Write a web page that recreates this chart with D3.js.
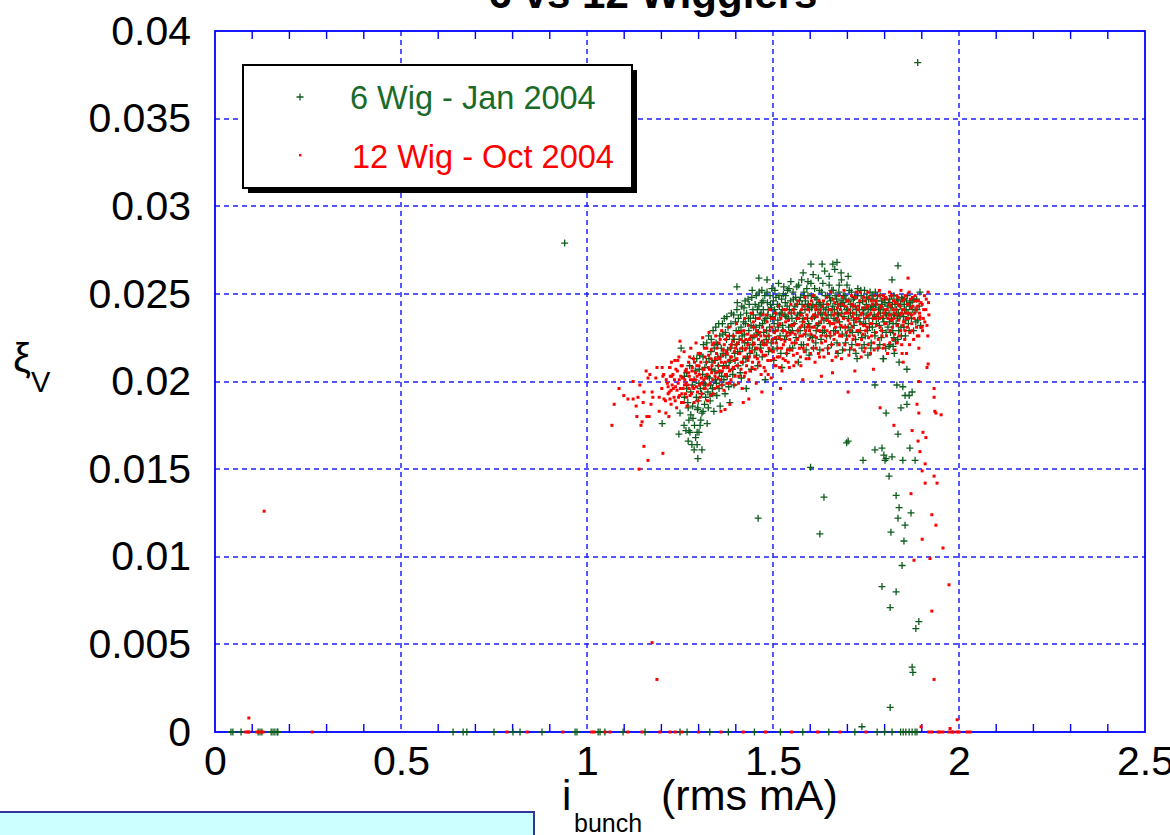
<!DOCTYPE html>
<html>
<head>
<meta charset="utf-8">
<script src="https://cdn.jsdelivr.net/npm/d3@7"></script>
<style>
  html, body { margin: 0; padding: 0; background: #ffffff; }
  svg { display: block; }
  text { font-family: "Liberation Sans", Arial, sans-serif; }
</style>
</head>
<body>
<svg id="chart" width="1170" height="835"></svg>
<script>
// ---- axis definitions ----
const xTicks = [0, 0.5, 1, 1.5, 2, 2.5];
const xTickLabels = ["0", "0.5", "1", "1.5", "2", "2.5"];
const yTicks = [0, 0.005, 0.01, 0.015, 0.02, 0.025, 0.03, 0.035, 0.04];
const yTickLabels = ["0", "0.005", "0.01", "0.015", "0.02", "0.025", "0.03", "0.035", "0.04"];
const seriesNames = ["6 Wig - Jan 2004", "12 Wig - Oct 2004"];

// ---- 6 wigglers, Jan 2004: (bunch current [rms mA], xi_V) ----
const wig6Main = [
  [1.253,0.0219],[1.262,0.0203],[1.268,0.0196],[1.271,0.0188],[1.276,0.0209],[1.279,0.0181],[1.283,0.0198],[1.287,0.0213],[1.289,0.0175],[1.266,0.0172],
  [1.291,0.0206],[1.294,0.0191],[1.297,0.0184],[1.301,0.0199],[1.303,0.0215],[1.306,0.0178],[1.308,0.0193],[1.311,0.0204],[1.313,0.0221],[1.316,0.0187],[1.318,0.0198],[1.321,0.0211],[1.323,0.0176],[1.325,0.0194],[1.327,0.0226],[1.329,0.0202],
  [1.331,0.0189],[1.333,0.0217],[1.335,0.0207],[1.337,0.0196],[1.339,0.0229],[1.341,0.0183],[1.343,0.0212],[1.345,0.0201],[1.347,0.0222],[1.349,0.0192],[1.352,0.0214],[1.354,0.0233],[1.356,0.0205],[1.358,0.0186],[1.361,0.0219],[1.363,0.0198],[1.365,0.0227],[1.367,0.0209],[1.369,0.0236],
  [1.371,0.0193],[1.373,0.0215],[1.375,0.0224],[1.377,0.0203],[1.379,0.0231],[1.382,0.0211],[1.384,0.0188],[1.386,0.0219],[1.388,0.0239],[1.391,0.0207],[1.393,0.0226],[1.395,0.0198],[1.397,0.0216],[1.399,0.0234],[1.402,0.0221],[1.404,0.0245],[1.406,0.0209],[1.408,0.0229],
  [1.411,0.0217],[1.413,0.0238],[1.415,0.0202],[1.417,0.0226],[1.419,0.0211],[1.422,0.0242],[1.424,0.0222],[1.426,0.0233],[1.428,0.0196],[1.431,0.0214],[1.433,0.0247],[1.435,0.0229],[1.437,0.0219],[1.439,0.0236],[1.442,0.0207],[1.444,0.0225],[1.446,0.0241],[1.448,0.0231],
  [1.451,0.0218],[1.453,0.0236],[1.455,0.0249],[1.457,0.0227],[1.459,0.0209],[1.462,0.0243],[1.464,0.0232],[1.466,0.0221],[1.468,0.0239],[1.471,0.0214],[1.473,0.0246],[1.475,0.0228],[1.477,0.0235],[1.479,0.0201],[1.482,0.0224],[1.484,0.0251],[1.486,0.0238],[1.488,0.0217],
  [1.491,0.0231],[1.493,0.0244],[1.495,0.0222],[1.497,0.0253],[1.499,0.0237],[1.502,0.0212],[1.504,0.0241],[1.506,0.0229],[1.508,0.0248],[1.511,0.0219],[1.513,0.0235],[1.515,0.0256],[1.517,0.0243],[1.519,0.0226],[1.522,0.0239],[1.524,0.0208],[1.526,0.0232],[1.528,0.0250],
  [1.531,0.0224],[1.533,0.0245],[1.535,0.0237],[1.537,0.0216],[1.539,0.0252],[1.542,0.0231],[1.544,0.0241],[1.546,0.0228],[1.548,0.0257],[1.551,0.0236],[1.553,0.0219],[1.555,0.0247],[1.557,0.0233],[1.559,0.0243],[1.562,0.0225],[1.564,0.0254],[1.566,0.0238],[1.568,0.0211],
  [1.571,0.0246],[1.573,0.0229],[1.575,0.0239],[1.577,0.0258],[1.579,0.0234],[1.582,0.0221],[1.584,0.0249],[1.586,0.0241],[1.588,0.0227],[1.591,0.0253],[1.593,0.0236],[1.595,0.0244],[1.597,0.0215],[1.599,0.0231],[1.602,0.0256],[1.604,0.0242],[1.606,0.0225],[1.608,0.0261],
  [1.611,0.0237],[1.613,0.0248],[1.615,0.0222],[1.617,0.0243],[1.619,0.0232],[1.622,0.0259],[1.624,0.0245],[1.626,0.0218],[1.628,0.0239],[1.631,0.0251],[1.633,0.0228],[1.635,0.0244],[1.637,0.0235],[1.639,0.0263],[1.642,0.0241],[1.644,0.0226],[1.646,0.0249],[1.648,0.0238],
  [1.651,0.0255],[1.653,0.0233],[1.655,0.0246],[1.657,0.0221],[1.659,0.0241],[1.662,0.0252],[1.664,0.0236],[1.666,0.0264],[1.668,0.0229],[1.671,0.0247],[1.673,0.0239],[1.675,0.0216],[1.677,0.0251],[1.679,0.0234],[1.682,0.0243],[1.684,0.0258],[1.686,0.0227],[1.688,0.0245],
  [1.691,0.0237],[1.693,0.0249],[1.695,0.0222],[1.697,0.0241],[1.699,0.0255],[1.702,0.0231],[1.704,0.0246],[1.706,0.0218],[1.708,0.0239],[1.711,0.0251],[1.713,0.0228],[1.715,0.0243],[1.717,0.0235],[1.719,0.0248],[1.722,0.0224],[1.724,0.0241],[1.726,0.0213],[1.728,0.0253],
  [1.731,0.0236],[1.733,0.0245],[1.735,0.0229],[1.737,0.0249],[1.739,0.0219],[1.742,0.0241],[1.744,0.0233],[1.746,0.0252],[1.748,0.0226],[1.751,0.0244],[1.753,0.0238],[1.755,0.0215],[1.757,0.0247],[1.759,0.0231],[1.762,0.0242],[1.764,0.0222],[1.766,0.0249],[1.768,0.0236],
  [1.771,0.0243],[1.773,0.0228],[1.775,0.0251],[1.777,0.0237],[1.779,0.0246],[1.782,0.0219],[1.784,0.0241],[1.786,0.0232],[1.788,0.0249],[1.791,0.0225],[1.793,0.0244],[1.795,0.0236],[1.797,0.0213],[1.799,0.0247],[1.802,0.0239],[1.804,0.0228],
  [1.811,0.0245],[1.813,0.0234],[1.815,0.0221],[1.817,0.0242],[1.819,0.0249],[1.822,0.0229],[1.824,0.0238],[1.826,0.0216],[1.828,0.0244],[1.831,0.0233],[1.833,0.0247],[1.835,0.0224],[1.837,0.0239],[1.839,0.0211],[1.842,0.0243],[1.844,0.0231],[1.846,0.0248],
  [1.851,0.0237],[1.853,0.0244],[1.856,0.0226],[1.858,0.0241],[1.861,0.0249],[1.864,0.0233],[1.867,0.0243],[1.871,0.0238],[1.874,0.0246],[1.878,0.0229],[1.882,0.0241],[1.886,0.0247],[1.889,0.0235],[1.893,0.0243],[1.897,0.0232],
  // upper edge and low-current tail of the band
  [1.602,0.0267],[1.632,0.0267],[1.661,0.0267],[1.672,0.0268],[1.581,0.0262],[1.651,0.0260],[1.683,0.0262],[1.702,0.0260],[1.836,0.0266],[1.594,0.0257],[1.820,0.0258],[1.484,0.0258],
  [1.462,0.0259],[1.403,0.0254],[1.444,0.0252],[1.470,0.0252],[1.895,0.0251],[1.860,0.0207],[1.825,0.0225],[1.823,0.0220],[1.812,0.0220],[1.796,0.0213],
  [1.202,0.0176],[1.247,0.0170],[1.250,0.0182],[1.261,0.0175],[1.274,0.0172],[1.272,0.0166],[1.277,0.0171],[1.282,0.0164],[1.296,0.0164],[1.288,0.0161],
  [1.298,0.0156],[1.309,0.0161],[1.301,0.0171],[1.304,0.0175],[1.296,0.0171],[1.285,0.0179],[1.272,0.0185],[1.298,0.0185],[1.312,0.0183]
];
const wig6Dense = [
  [1.262,0.0191],[1.268,0.0205],[1.274,0.0178],[1.279,0.0194],[1.284,0.0186],[1.288,0.0201],[1.292,0.0168],[1.295,0.0213],[1.299,0.0189],[1.302,0.0207],
  [1.305,0.0196],[1.309,0.0182],[1.312,0.0214],[1.314,0.0199],[1.317,0.0208],[1.319,0.0191],[1.322,0.0222],[1.324,0.0203],[1.326,0.0185],[1.328,0.0213],
  [1.332,0.0198],[1.334,0.0224],[1.336,0.0211],[1.338,0.0193],[1.342,0.0219],[1.344,0.0206],[1.346,0.0231],[1.348,0.0199],[1.351,0.0221],[1.353,0.0209],
  [1.355,0.0196],[1.357,0.0226],[1.359,0.0214],[1.362,0.0203],[1.364,0.0233],[1.366,0.0216],[1.368,0.0201],[1.372,0.0228],[1.374,0.0209],[1.376,0.0237],
  [1.378,0.0218],[1.381,0.0197],[1.383,0.0226],[1.385,0.0212],[1.387,0.0233],[1.389,0.0221],[1.392,0.0204],[1.394,0.0238],[1.396,0.0224],[1.398,0.0212],
  [1.401,0.0229],[1.403,0.0241],[1.405,0.0217],[1.407,0.0236],[1.409,0.0224],[1.412,0.0205],[1.414,0.0231],[1.416,0.0243],[1.418,0.0219],[1.421,0.0234],
  [1.423,0.0227],[1.425,0.0246],[1.427,0.0213],[1.429,0.0239],[1.432,0.0222],[1.434,0.0236],[1.436,0.0244],[1.438,0.0216],[1.441,0.0232],[1.443,0.0248],
  [1.445,0.0221],[1.447,0.0238],[1.449,0.0226],[1.452,0.0244],[1.454,0.0231],[1.456,0.0215],[1.458,0.0241],[1.461,0.0228],[1.463,0.0251],[1.465,0.0238],
  [1.467,0.0219],[1.469,0.0245],[1.472,0.0233],[1.474,0.0241],[1.476,0.0222],[1.478,0.0249],[1.481,0.0236],[1.483,0.0229],[1.485,0.0245],[1.487,0.0241],
  [1.489,0.0226],[1.492,0.0249],[1.494,0.0236],[1.496,0.0242],[1.498,0.0218],[1.501,0.0246],[1.503,0.0233],[1.505,0.0252],[1.507,0.0239],[1.509,0.0224],
  [1.512,0.0244],[1.514,0.0231],[1.516,0.0249],[1.518,0.0238],[1.521,0.0216],[1.523,0.0247],[1.525,0.0241],[1.527,0.0229],[1.529,0.0254],[1.532,0.0238],
  [1.534,0.0249],[1.536,0.0226],[1.538,0.0243],[1.541,0.0236],[1.543,0.0253],[1.545,0.0219],[1.547,0.0246],[1.549,0.0239],[1.552,0.0229],[1.554,0.0251],
  [1.556,0.0241],[1.558,0.0222],[1.561,0.0248],[1.563,0.0236],[1.565,0.0244],[1.567,0.0229],[1.569,0.0255],[1.572,0.0239],[1.574,0.0248],[1.576,0.0221],
  [1.578,0.0244],[1.581,0.0236],[1.583,0.0251],[1.585,0.0231],[1.587,0.0246],[1.589,0.0218],[1.592,0.0243],[1.594,0.0249],[1.596,0.0233],[1.598,0.0241],
  [1.601,0.0226],[1.603,0.0249],[1.605,0.0236],[1.607,0.0244],[1.609,0.0219],[1.612,0.0253],[1.614,0.0238],[1.616,0.0229],[1.618,0.0247],[1.621,0.0241],
  [1.623,0.0233],[1.625,0.0252],[1.627,0.0244],[1.629,0.0224],[1.632,0.0238],[1.634,0.0256],[1.636,0.0242],[1.638,0.0229],[1.641,0.0249],[1.643,0.0236],
  [1.645,0.0244],[1.647,0.0219],[1.649,0.0241],[1.652,0.0248],[1.654,0.0226],[1.656,0.0238],[1.658,0.0252],[1.661,0.0243],[1.663,0.0229],[1.665,0.0241],
  [1.667,0.0249],[1.669,0.0235],[1.672,0.0222],[1.674,0.0244],[1.676,0.0238],[1.678,0.0255],[1.681,0.0231],[1.683,0.0246],[1.685,0.0239],[1.687,0.0218],
  [1.689,0.0249],[1.692,0.0243],[1.694,0.0231],[1.696,0.0247],[1.698,0.0226],[1.701,0.0241],[1.703,0.0236],[1.705,0.0252],[1.707,0.0229],[1.709,0.0244],
  [1.712,0.0221],[1.714,0.0239],[1.716,0.0247],[1.718,0.0232],[1.721,0.0243],[1.723,0.0216],[1.725,0.0238],[1.727,0.0249],[1.729,0.0228],[1.732,0.0241],
  [1.734,0.0234],[1.736,0.0252],[1.738,0.0225],[1.741,0.0246],[1.743,0.0239],[1.745,0.0221],[1.747,0.0242],[1.749,0.0233],[1.752,0.0248],[1.754,0.0229],
  [1.756,0.0241],[1.758,0.0236],[1.761,0.0251],[1.763,0.0219],[1.765,0.0243],[1.767,0.0231],[1.769,0.0247],[1.772,0.0238],[1.774,0.0226],[1.776,0.0244],
  [1.778,0.0233],[1.781,0.0249],[1.783,0.0236],[1.785,0.0242],[1.787,0.0221],[1.789,0.0239],[1.792,0.0246],[1.794,0.0229],[1.796,0.0241],[1.798,0.0234],
  [1.801,0.0245],[1.803,0.0219],[1.805,0.0238],[1.807,0.0243],[1.809,0.0231],[1.812,0.0239],[1.814,0.0247],[1.816,0.0228],[1.818,0.0236],[1.821,0.0244],
  [1.823,0.0233],[1.825,0.0249],[1.827,0.0238],[1.829,0.0223],[1.832,0.0241],[1.834,0.0236],[1.836,0.0246],[1.838,0.0229],[1.841,0.0237],[1.843,0.0244],
  [1.845,0.0226],[1.847,0.0239],[1.849,0.0247],[1.852,0.0231],[1.854,0.0241],[1.857,0.0235],[1.859,0.0246],[1.863,0.0239],[1.866,0.0229],[1.869,0.0245],
  [1.872,0.0236],[1.876,0.0241],[1.879,0.0247],[1.884,0.0234],[1.887,0.0241]
];
const wig6Sparse = [
  [0.940,0.0279],[1.889,0.0382],[1.460,0.0122],
  [1.774,0.0198],[1.833,0.0198],[1.849,0.0197],[1.855,0.0192],[1.866,0.0192],[1.874,0.0194],[1.844,0.0185],[1.860,0.0187],[1.804,0.0182],
  [1.836,0.0170],[1.702,0.0166],[1.698,0.0165],[1.774,0.0161],[1.793,0.0162],[1.798,0.0158],[1.804,0.0156],[1.801,0.0155],[1.820,0.0157],
  [1.742,0.0155],[1.849,0.0155],[1.882,0.0155],[1.868,0.0162],[1.812,0.0146],[1.637,0.0134],[1.831,0.0135],[1.839,0.0128],[1.871,0.0125],
  [1.836,0.0122],[1.855,0.0118],[1.626,0.0113],[1.817,0.0114],[1.852,0.0109],[1.847,0.0095],[1.793,0.0083],[1.831,0.0080],[1.815,0.0071],
  [1.892,0.0063],[1.884,0.0059],[1.874,0.0037],[1.876,0.0034],[1.815,0.0014],[1.739,0.0003],[1.601,0.0151]
];
const wig6Zero = [0.043,0.048,0.070,0.116,0.121,0.126,0.151,0.156,0.161,0.167,0.169,
  0.640,0.667,0.677,0.750,0.801,0.820,0.879,0.968,0.973,1.030,1.035,1.048,1.097,1.156,1.250,1.269,
  1.330,1.380,1.450,1.520,1.580,1.650,1.720,1.780,1.800,1.820,1.843,1.850,1.857,1.866,1.874,1.882,1.887];

// ---- 12 wigglers, Oct 2004 ----
const wig12Main = [
  [1.213,0.0201],[1.218,0.0193],[1.222,0.0208],[1.226,0.0187],[1.229,0.0198],
  [1.231,0.0204],[1.234,0.0191],[1.236,0.0212],[1.238,0.0197],[1.241,0.0185],[1.243,0.0206],[1.245,0.0199],[1.247,0.0214],[1.249,0.0192],[1.252,0.0203],[1.254,0.0188],[1.256,0.0209],[1.258,0.0196],[1.261,0.0217],[1.263,0.0201],[1.265,0.0193],[1.267,0.0207],[1.269,0.0186],
  [1.271,0.0198],[1.273,0.0211],[1.275,0.0203],[1.277,0.0192],[1.279,0.0219],[1.282,0.0206],[1.284,0.0197],[1.286,0.0213],[1.288,0.0188],[1.291,0.0201],[1.293,0.0222],[1.295,0.0209],[1.297,0.0194],[1.299,0.0216],[1.302,0.0204],[1.304,0.0191],[1.306,0.0211],[1.308,0.0199],
  [1.311,0.0225],[1.313,0.0207],[1.315,0.0196],[1.317,0.0214],[1.319,0.0202],[1.322,0.0219],[1.324,0.0189],[1.326,0.0208],[1.328,0.0228],[1.331,0.0199],[1.333,0.0213],[1.335,0.0205],[1.337,0.0221],[1.339,0.0193],[1.342,0.0211],[1.344,0.0203],[1.346,0.0226],[1.348,0.0216],
  [1.351,0.0197],[1.353,0.0209],[1.355,0.0222],[1.357,0.0213],[1.359,0.0201],[1.362,0.0229],[1.364,0.0206],[1.366,0.0218],[1.368,0.0195],[1.371,0.0211],[1.373,0.0224],[1.375,0.0203],[1.377,0.0216],[1.379,0.0208],[1.382,0.0231],[1.384,0.0199],[1.386,0.0214],[1.388,0.0221],
  [1.391,0.0207],[1.393,0.0226],[1.395,0.0212],[1.397,0.0198],[1.399,0.0219],[1.402,0.0233],[1.404,0.0209],[1.406,0.0222],[1.408,0.0203],[1.411,0.0216],[1.413,0.0228],[1.415,0.0211],[1.417,0.0196],[1.419,0.0223],[1.422,0.0214],[1.424,0.0236],[1.426,0.0205],[1.428,0.0219],
  [1.431,0.0227],[1.433,0.0212],[1.435,0.0201],[1.437,0.0224],[1.439,0.0217],[1.442,0.0239],[1.444,0.0208],[1.446,0.0221],[1.448,0.0231],[1.451,0.0214],[1.453,0.0226],[1.455,0.0199],[1.457,0.0219],[1.459,0.0236],[1.462,0.0211],[1.464,0.0228],[1.466,0.0218],[1.468,0.0204],
  [1.471,0.0223],[1.473,0.0238],[1.475,0.0215],[1.477,0.0229],[1.479,0.0206],[1.482,0.0221],[1.484,0.0234],[1.486,0.0212],[1.488,0.0226],[1.491,0.0241],[1.493,0.0218],[1.495,0.0202],[1.497,0.0231],[1.499,0.0222],[1.502,0.0213],[1.504,0.0236],[1.506,0.0225],[1.508,0.0209],
  [1.511,0.0229],[1.513,0.0219],[1.515,0.0243],[1.517,0.0214],[1.519,0.0233],[1.522,0.0224],[1.524,0.0206],[1.526,0.0238],[1.528,0.0221],[1.531,0.0229],[1.533,0.0212],[1.535,0.0241],[1.537,0.0226],[1.539,0.0218],[1.542,0.0235],[1.544,0.0208],[1.546,0.0227],[1.548,0.0244],
  [1.551,0.0222],[1.553,0.0232],[1.555,0.0215],[1.557,0.0239],[1.559,0.0227],[1.562,0.0211],[1.564,0.0236],[1.566,0.0224],[1.568,0.0246],[1.571,0.0219],[1.573,0.0231],[1.575,0.0209],[1.577,0.0241],[1.579,0.0226],[1.582,0.0234],[1.584,0.0217],[1.586,0.0248],[1.588,0.0229],
  [1.591,0.0238],[1.593,0.0221],[1.595,0.0232],[1.597,0.0213],[1.599,0.0244],[1.602,0.0227],[1.604,0.0236],[1.606,0.0219],[1.608,0.0249],[1.611,0.0231],[1.613,0.0211],[1.615,0.0241],[1.617,0.0225],[1.619,0.0237],[1.622,0.0216],[1.624,0.0246],[1.626,0.0229],[1.628,0.0234],
  [1.631,0.0222],[1.633,0.0243],[1.635,0.0231],[1.637,0.0214],[1.639,0.0239],[1.642,0.0226],[1.644,0.0248],[1.646,0.0235],[1.648,0.0219],[1.651,0.0241],[1.653,0.0228],[1.655,0.0251],[1.657,0.0233],[1.659,0.0212],[1.662,0.0238],[1.664,0.0224],[1.666,0.0245],[1.668,0.0231],
  [1.671,0.0217],[1.673,0.0242],[1.675,0.0234],[1.677,0.0249],[1.679,0.0226],[1.682,0.0238],[1.684,0.0213],[1.686,0.0244],[1.688,0.0231],[1.691,0.0252],[1.693,0.0221],[1.695,0.0239],[1.697,0.0228],[1.699,0.0246],[1.702,0.0235],[1.704,0.0215],[1.706,0.0241],[1.708,0.0229],
  [1.711,0.0249],[1.713,0.0237],[1.715,0.0224],[1.717,0.0243],[1.719,0.0218],[1.722,0.0236],[1.724,0.0251],[1.726,0.0229],[1.728,0.0241],[1.731,0.0221],[1.733,0.0246],[1.735,0.0233],[1.737,0.0214],[1.739,0.0239],[1.742,0.0227],[1.744,0.0248],[1.746,0.0236],[1.748,0.0219],
  [1.751,0.0242],[1.753,0.0231],[1.755,0.0251],[1.757,0.0225],[1.759,0.0238],[1.762,0.0216],[1.764,0.0246],[1.766,0.0233],[1.768,0.0241],[1.771,0.0222],[1.773,0.0249],[1.775,0.0236],[1.777,0.0228],[1.779,0.0244],[1.782,0.0219],[1.784,0.0239],[1.786,0.0252],[1.788,0.0231],
  [1.791,0.0243],[1.793,0.0226],[1.795,0.0237],[1.797,0.0249],[1.799,0.0221],[1.802,0.0241],[1.804,0.0233],[1.806,0.0247],[1.808,0.0216],[1.811,0.0238],[1.813,0.0251],[1.815,0.0229],[1.817,0.0243],[1.819,0.0235],[1.822,0.0224],[1.824,0.0246],[1.826,0.0239],[1.828,0.0218],
  [1.831,0.0241],[1.833,0.0249],[1.835,0.0232],[1.837,0.0244],[1.839,0.0226],[1.842,0.0238],[1.844,0.0252],[1.846,0.0221],[1.848,0.0241],[1.851,0.0234],[1.853,0.0247],[1.855,0.0229],[1.857,0.0239],[1.859,0.0216],[1.862,0.0244],[1.864,0.0236],[1.866,0.0251],[1.868,0.0228],
  [1.871,0.0242],[1.873,0.0233],[1.875,0.0248],[1.878,0.0224],[1.881,0.0239],[1.883,0.0246],[1.886,0.0231],[1.889,0.0243],[1.892,0.0219],[1.895,0.0237],[1.898,0.0245],[1.902,0.0229],[1.905,0.0241],[1.908,0.0234],[1.912,0.0247],[1.916,0.0226],[1.919,0.0238],
  // lower fringe and right edge of the band
  [1.360,0.0183],[1.420,0.0188],[1.470,0.0194],[1.520,0.0196],[1.580,0.0201],[1.630,0.0203],[1.660,0.0205],[1.720,0.0206],[1.770,0.0207],[1.850,0.0211],
  [1.384,0.0187],[1.435,0.0190],[1.371,0.0184],[1.863,0.0259],[1.917,0.0251],[1.895,0.0236],[1.901,0.0231],[1.892,0.0226],[1.847,0.0216],[1.917,0.0210],[1.914,0.0208]
];
const wig12Dense = [
  [1.201,0.0196],[1.206,0.0204],[1.211,0.0189],[1.216,0.0199],[1.221,0.0194],[1.224,0.0203],[1.227,0.0211],[1.232,0.0196],[1.235,0.0201],[1.237,0.0189],
  [1.239,0.0207],[1.242,0.0195],[1.244,0.0212],[1.246,0.0191],[1.248,0.0201],[1.251,0.0196],[1.253,0.0209],[1.255,0.0193],[1.257,0.0202],[1.259,0.0188],
  [1.262,0.0198],[1.264,0.0206],[1.266,0.0199],[1.268,0.0191],[1.272,0.0205],[1.274,0.0196],[1.276,0.0214],[1.278,0.0201],[1.281,0.0193],[1.283,0.0208],
  [1.285,0.0201],[1.287,0.0196],[1.289,0.0211],[1.292,0.0205],[1.294,0.0197],[1.296,0.0203],[1.298,0.0189],[1.301,0.0209],[1.303,0.0198],[1.305,0.0216],
  [1.307,0.0202],[1.309,0.0193],[1.312,0.0207],[1.314,0.0201],[1.316,0.0219],[1.318,0.0196],[1.321,0.0211],[1.323,0.0204],[1.325,0.0198],[1.327,0.0215],
  [1.329,0.0207],[1.332,0.0192],[1.334,0.0218],[1.336,0.0209],[1.338,0.0201],[1.341,0.0222],[1.343,0.0196],[1.345,0.0213],[1.347,0.0205],[1.349,0.0219],
  [1.352,0.0202],[1.354,0.0214],[1.356,0.0206],[1.358,0.0224],[1.361,0.0211],[1.363,0.0198],[1.365,0.0215],[1.367,0.0208],[1.369,0.0221],[1.372,0.0204],
  [1.374,0.0217],[1.376,0.0199],[1.378,0.0226],[1.381,0.0212],[1.383,0.0206],[1.385,0.0219],[1.387,0.0201],[1.389,0.0214],[1.392,0.0223],[1.394,0.0208],
  [1.396,0.0217],[1.398,0.0203],[1.401,0.0221],[1.403,0.0213],[1.405,0.0228],[1.407,0.0199],[1.409,0.0216],[1.412,0.0224],[1.414,0.0207],[1.416,0.0219],
  [1.418,0.0211],[1.421,0.0229],[1.423,0.0203],[1.425,0.0218],[1.427,0.0224],[1.429,0.0209],[1.432,0.0221],[1.434,0.0232],[1.436,0.0214],[1.438,0.0206],
  [1.441,0.0226],[1.443,0.0217],[1.445,0.0211],[1.447,0.0234],[1.449,0.0222],[1.452,0.0207],[1.454,0.0219],[1.456,0.0229],[1.458,0.0213],[1.461,0.0224],
  [1.463,0.0236],[1.465,0.0209],[1.467,0.0226],[1.469,0.0217],[1.472,0.0231],[1.474,0.0221],[1.476,0.0208],[1.478,0.0226],[1.481,0.0215],[1.483,0.0238],
  [1.485,0.0223],[1.487,0.0204],[1.489,0.0219],[1.492,0.0229],[1.494,0.0212],[1.496,0.0236],[1.498,0.0224],[1.501,0.0217],[1.503,0.0228],[1.505,0.0209],
  [1.507,0.0239],[1.509,0.0222],[1.512,0.0214],[1.514,0.0232],[1.516,0.0225],[1.518,0.0208],[1.521,0.0236],[1.523,0.0219],[1.525,0.0229],[1.527,0.0213],
  [1.529,0.0241],[1.532,0.0223],[1.534,0.0234],[1.536,0.0216],[1.538,0.0228],[1.541,0.0211],[1.543,0.0239],[1.545,0.0224],[1.547,0.0232],[1.549,0.0218],
  [1.552,0.0228],[1.554,0.0241],[1.556,0.0209],[1.558,0.0233],[1.561,0.0222],[1.563,0.0244],[1.565,0.0216],[1.567,0.0229],[1.569,0.0236],[1.572,0.0226],
  [1.574,0.0214],[1.576,0.0238],[1.578,0.0232],[1.581,0.0219],[1.583,0.0243],[1.585,0.0227],[1.587,0.0236],[1.589,0.0213],[1.592,0.0231],[1.594,0.0241],
  [1.596,0.0224],[1.598,0.0229],[1.601,0.0216],[1.603,0.0246],[1.605,0.0231],[1.607,0.0223],[1.609,0.0238],[1.612,0.0226],[1.614,0.0243],[1.616,0.0219],
  [1.618,0.0233],[1.621,0.0229],[1.623,0.0239],[1.625,0.0214],[1.627,0.0241],[1.629,0.0226],[1.632,0.0236],[1.634,0.0218],[1.636,0.0246],[1.638,0.0231],
  [1.641,0.0223],[1.643,0.0238],[1.645,0.0229],[1.647,0.0244],[1.649,0.0216],[1.652,0.0234],[1.654,0.0226],[1.656,0.0241],[1.658,0.0221],[1.661,0.0247],
  [1.663,0.0233],[1.665,0.0227],[1.667,0.0239],[1.669,0.0214],[1.672,0.0236],[1.674,0.0228],[1.676,0.0244],[1.678,0.0221],[1.681,0.0241],[1.683,0.0232],
  [1.685,0.0226],[1.687,0.0248],[1.689,0.0236],[1.692,0.0218],[1.694,0.0243],[1.696,0.0231],[1.698,0.0224],[1.701,0.0246],[1.703,0.0239],[1.705,0.0226],
  [1.707,0.0233],[1.709,0.0219],[1.712,0.0244],[1.714,0.0231],[1.716,0.0239],[1.718,0.0226],[1.721,0.0248],[1.723,0.0234],[1.725,0.0221],[1.727,0.0236],
  [1.729,0.0243],[1.732,0.0229],[1.734,0.0251],[1.736,0.0238],[1.738,0.0224],[1.741,0.0242],[1.743,0.0232],[1.745,0.0217],[1.747,0.0246],[1.749,0.0229],
  [1.752,0.0237],[1.754,0.0243],[1.756,0.0221],[1.758,0.0248],[1.761,0.0233],[1.763,0.0239],[1.765,0.0226],[1.767,0.0244],[1.769,0.0236],[1.772,0.0218],
  [1.774,0.0241],[1.776,0.0246],[1.778,0.0232],[1.781,0.0238],[1.783,0.0224],[1.785,0.0249],[1.787,0.0236],[1.789,0.0242],[1.792,0.0229],[1.794,0.0247],
  [1.796,0.0219],[1.798,0.0239],[1.801,0.0233],[1.803,0.0248],[1.805,0.0226],[1.807,0.0241],[1.809,0.0236],[1.812,0.0244],[1.814,0.0222],[1.816,0.0238],
  [1.818,0.0249],[1.821,0.0231],[1.823,0.0241],[1.825,0.0236],[1.827,0.0227],[1.829,0.0245],[1.832,0.0238],[1.834,0.0222],[1.836,0.0248],[1.838,0.0235],
  [1.841,0.0243],[1.843,0.0229],[1.845,0.0239],[1.847,0.0246],[1.849,0.0232],[1.852,0.0241],[1.854,0.0224],[1.856,0.0249],[1.858,0.0236],[1.861,0.0231],
  [1.863,0.0244],[1.865,0.0239],[1.867,0.0221],[1.869,0.0247],[1.872,0.0238],[1.874,0.0229],[1.876,0.0243],[1.879,0.0236],[1.882,0.0249],[1.885,0.0241],
  [1.888,0.0226],[1.891,0.0246],[1.894,0.0239],[1.897,0.0231],[1.901,0.0244],[1.904,0.0236],[1.907,0.0249],[1.911,0.0241],[1.914,0.0232],[1.918,0.0245]
];
const wig12Sparse = [
  [0.132,0.0126],[1.175,0.0051],[1.188,0.0030],[0.091,0.0008],
  [1.067,0.0175],[1.073,0.0187],[1.086,0.0196],[1.099,0.0192],[1.110,0.0190],[1.124,0.0200],[1.124,0.0190],[1.137,0.0191],[1.132,0.0186],[1.134,0.0180],
  [1.142,0.0198],[1.148,0.0177],[1.145,0.0175],[1.153,0.0194],[1.151,0.0188],[1.161,0.0180],[1.153,0.0163],[1.159,0.0206],[1.164,0.0202],[1.169,0.0204],
  [1.175,0.0194],[1.177,0.0191],[1.172,0.0187],[1.167,0.0180],[1.164,0.0155],[1.188,0.0208],[1.185,0.0202],[1.194,0.0191],[1.194,0.0183],[1.204,0.0159],
  [1.202,0.0208],[1.204,0.0203],[1.207,0.0190],[1.212,0.0182],[1.220,0.0180],[1.223,0.0208],[1.228,0.0203],[1.218,0.0197],[1.226,0.0195],[1.223,0.0190],
  [1.250,0.0223],[1.140,0.0150],
  [1.892,0.0200],[1.933,0.0196],[1.702,0.0194],[1.933,0.0191],[1.887,0.0187],[1.788,0.0185],[1.892,0.0182],[1.935,0.0183],[1.938,0.0182],[1.952,0.0181],
  [1.825,0.0175],[1.874,0.0172],[1.903,0.0171],[1.911,0.0168],[1.890,0.0166],[1.895,0.0160],[1.909,0.0153],[1.901,0.0149],[1.933,0.0146],[1.909,0.0142],
  [1.941,0.0142],[1.871,0.0136],[1.927,0.0124],[1.938,0.0118],[1.901,0.0110],[1.957,0.0105],[1.879,0.0098],[1.922,0.0099],[1.973,0.0084],[1.927,0.0069],
  [1.933,0.0030],[1.995,0.0007],[1.898,0.0003],[1.976,0.0002]
];
const wig12Zero = [0.083,0.089,0.091,0.113,0.118,0.126,0.129,0.261,
  0.785,0.839,0.935,1.013,1.019,1.048,1.062,1.110,1.148,1.196,1.223,1.237,1.255,
  1.300,1.360,1.420,1.480,1.550,1.620,1.680,1.750,
  1.919,1.927,1.944,1.949,1.957,1.973,1.981,1.984,1.995,2.000,2.022,2.030];

// ---- layout ----
const plot = { left: 215, right: 1145, top: 31, bottom: 732 };
const gridBlue = "#0000ff";
const greenInk = "#0d5c1c";
const greenText = "#1a6b2a";
const redInk = "#ff0000";

const svg = d3.select("#chart");

const x = d3.scaleLinear().domain([0, 2.5]).range([plot.left, plot.right]);
const y = d3.scaleLinear().domain([0, 0.04]).range([plot.bottom, plot.top]);

// caption box peeking in at the bottom left
svg.append("rect")
  .attr("x", -4).attr("y", 812).attr("width", 538).attr("height", 40)
  .attr("fill", "#ccffff").attr("stroke", "#333399").attr("stroke-width", 2);

// dashed grid (anti-aliased so the thin blue stays blue)
const grid = svg.append("g").attr("stroke", "#1f1fff").attr("stroke-width", 1.5)
  .attr("stroke-dasharray", "5,4");
grid.selectAll("line.gx").data(xTicks.slice(1, -1)).join("line")
  .attr("x1", d => Math.round(x(d))).attr("x2", d => Math.round(x(d)))
  .attr("y1", plot.top).attr("y2", plot.bottom);
grid.selectAll("line.gy").data(yTicks.slice(1, -1)).join("line")
  .attr("x1", plot.left).attr("x2", plot.right)
  .attr("y1", d => Math.round(y(d))).attr("y2", d => Math.round(y(d)));

// minor ticks every 0.1 along the top and bottom edges
const minor = d3.range(1, 25).map(i => i / 10).filter(v => Math.abs(v * 2 - Math.round(v * 2)) > 1e-6);
const mt = svg.append("g").attr("stroke", gridBlue).attr("stroke-width", 1.4);
mt.selectAll("line.b").data(minor).join("line")
  .attr("x1", d => x(d)).attr("x2", d => x(d))
  .attr("y1", plot.bottom).attr("y2", plot.bottom - 8);
mt.selectAll("line.t").data(minor).join("line")
  .attr("x1", d => x(d)).attr("x2", d => x(d))
  .attr("y1", plot.top).attr("y2", plot.top + 8);

// frame
svg.append("rect")
  .attr("x", plot.left).attr("y", plot.top)
  .attr("width", plot.right - plot.left).attr("height", plot.bottom - plot.top)
  .attr("fill", "none").attr("stroke", gridBlue).attr("stroke-width", 1.8);

// axes (labels only; the frame and grid carry the lines)
const xAxis = d3.axisBottom(x).tickValues(xTicks).tickSize(0).tickPadding(14)
  .tickFormat((d, i) => xTickLabels[i]);
const gx = svg.append("g").attr("transform", `translate(0,${plot.bottom})`).call(xAxis);
gx.select(".domain").remove();
gx.selectAll("text").attr("font-size", 41).attr("fill", "#000")
  .attr("font-family", "Liberation Sans, Arial, sans-serif");

const yAxis = d3.axisLeft(y).tickValues(yTicks).tickSize(0).tickPadding(24)
  .tickFormat((d, i) => yTickLabels[i]);
const gy = svg.append("g").attr("transform", `translate(${plot.left},0)`).call(yAxis);
gy.select(".domain").remove();
gy.selectAll("text").attr("font-size", 41).attr("fill", "#000")
  .attr("font-family", "Liberation Sans, Arial, sans-serif");

// markers
const plusPath = "M-3.5,0H3.5M0,-3.5V3.5";
function drawPlus(g, pts) {
  g.selectAll("path").data(pts).join("path")
    .attr("d", plusPath)
    .attr("transform", d => `translate(${x(d[0])},${y(d[1])})`)
    .attr("stroke", greenInk).attr("stroke-width", 1.3).attr("fill", "none");
}
function drawDots(g, pts) {
  g.selectAll("rect").data(pts).join("rect")
    .attr("x", d => x(d[0]) - 1.5).attr("y", d => y(d[1]) - 1.5)
    .attr("width", 3).attr("height", 3).attr("fill", redInk);
}

const greenAll = wig6Main.concat(wig6Dense, wig6Sparse, wig6Zero.map(v => [v, 0]));
const redAll = wig12Main.concat(wig12Dense, wig12Sparse, wig12Zero.map(v => [v, 0]));

drawPlus(svg.append("g"), greenAll);
drawDots(svg.append("g"), redAll);

// legend with drop shadow
const lg = svg.append("g");
lg.append("rect").attr("x", 248).attr("y", 70).attr("width", 389).attr("height", 123).attr("fill", "#000");
lg.append("rect").attr("x", 243).attr("y", 65).attr("width", 389).attr("height", 123)
  .attr("fill", "#fff").attr("stroke", "#000").attr("stroke-width", 2);
drawPlus(lg.append("g"), [[x.invert(300), y.invert(97)]]);
lg.append("rect").attr("x", 299).attr("y", 154).attr("width", 2.4).attr("height", 2.4).attr("fill", redInk);
lg.append("text").attr("x", 350).attr("y", 109).attr("font-size", 32.5).attr("fill", greenText).text(seriesNames[0]);
lg.append("text").attr("x", 352).attr("y", 168).attr("font-size", 32.5).attr("fill", redInk).text(seriesNames[1]);

// title
svg.append("text").attr("x", 653).attr("y", 8).attr("text-anchor", "middle")
  .attr("font-size", 42).attr("font-weight", "bold").attr("fill", "#000")
  .text("6 vs 12 Wigglers");

// x-axis title: i_bunch (rms mA)
const xt = svg.append("text").attr("y", 810).attr("fill", "#000");
xt.append("tspan").attr("x", 562).attr("font-size", 42).text("i");
xt.append("tspan").attr("x", 574).attr("font-size", 25).attr("dy", 22).text("bunch");
xt.append("tspan").attr("x", 661).attr("font-size", 43).attr("dy", -22).text("(rms mA)");

// y-axis title: xi_V
const yt = svg.append("text").attr("x", 13).attr("y", 372).attr("font-size", 40).attr("fill", "#000")
  .attr("font-family", "DejaVu Sans, sans-serif");
yt.append("tspan").text("ξ");
yt.append("tspan").attr("font-family", "Liberation Sans, Arial, sans-serif")
  .attr("font-size", 29).attr("dy", 20).text("V");
</script>
</body>
</html>
